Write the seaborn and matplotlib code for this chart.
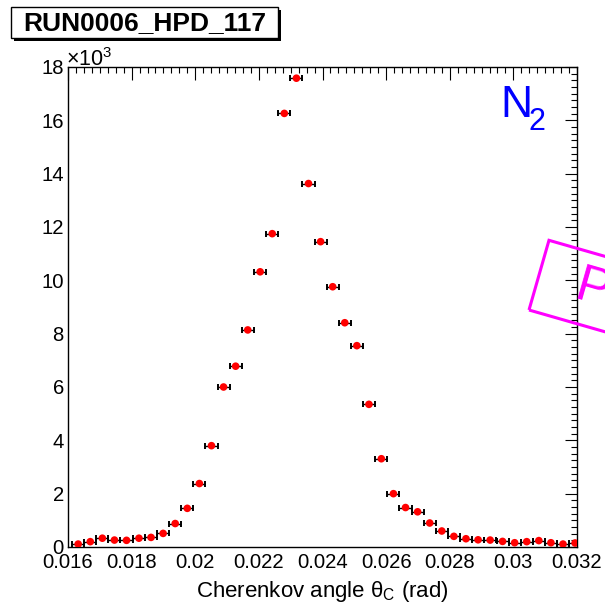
import matplotlib
matplotlib.use("Agg")
import numpy as np
import pandas as pd
import seaborn as sns
import matplotlib.pyplot as plt
from matplotlib.patches import Rectangle
from matplotlib.ticker import MultipleLocator, FuncFormatter
from matplotlib.transforms import IdentityTransform

# ---------------- data ----------------
theta_c = [0.01632, 0.01670, 0.01708, 0.01746, 0.01784, 0.01823, 0.01861,
           0.01899, 0.01937, 0.01975, 0.02013, 0.02051, 0.02089, 0.02127,
           0.02165, 0.02204, 0.02242, 0.02280, 0.02318, 0.02356, 0.02394,
           0.02432, 0.02470, 0.02508, 0.02546, 0.02585, 0.02623, 0.02661,
           0.02699, 0.02737, 0.02775, 0.02813, 0.02851, 0.02889, 0.02927,
           0.02966, 0.03004, 0.03042, 0.03080, 0.03118, 0.03156, 0.03194]
counts = [110, 200, 330, 260, 250, 330, 360, 510, 880, 1450, 2380, 3800,
          6000, 6780, 8140, 10320, 11750, 16260, 17580, 13630, 11450, 9760,
          8410, 7550, 5350, 3310, 2000, 1480, 1320, 900, 600, 400, 310, 270,
          260, 210, 160, 200, 240, 160, 110, 150]
half_bin = 0.00019

title_text = "RUN0006_HPD_117"
x_label = "Cherenkov angle θ$_{C}$ (rad)"
gas_main = "N"
gas_sub = "2"
stamp_text = "Preliminary"

df = pd.DataFrame({"theta": theta_c, "counts": counts})

# ---------------- style ----------------
sns.set_theme(style="white")
plt.rcParams['font.family'] = ['Liberation Sans', 'DejaVu Sans']
plt.rcParams['mathtext.fontset'] = 'custom'
plt.rcParams['mathtext.rm'] = 'Liberation Sans'
plt.rcParams['mathtext.it'] = 'Liberation Sans'
plt.rcParams['mathtext.bf'] = 'Liberation Sans:bold'

W, H = 605, 604
fig = plt.figure(figsize=(W / 100, H / 100), dpi=100)
fig.patch.set_facecolor("white")
ax = fig.add_axes([68 / W, 1 - 547 / H, (577 - 68) / W, (547 - 67) / H])

ax.errorbar(df["theta"], df["counts"], xerr=half_bin, fmt="none",
            ecolor="black", elinewidth=1.0, capsize=2.2, capthick=1.4, zorder=2)
sns.scatterplot(data=df, x="theta", y="counts", ax=ax, color="red",
                s=30, edgecolor="none", linewidth=0, zorder=3, legend=False)

ax.set_xlim(0.016, 0.032)
ax.set_ylim(0, 18000)
ax.xaxis.set_major_locator(MultipleLocator(0.002))
ax.xaxis.set_minor_locator(MultipleLocator(0.00025))
ax.yaxis.set_major_locator(MultipleLocator(2000))
ax.yaxis.set_minor_locator(MultipleLocator(250))
ax.xaxis.set_major_formatter(FuncFormatter(lambda v, p: "%g" % round(v, 4)))
ax.yaxis.set_major_formatter(FuncFormatter(lambda v, p: "%g" % (v / 1000)))

ax.tick_params(which="both", direction="in", top=True, right=True,
               width=0.8, color="black", labelsize=14.6, labelcolor="black")
ax.tick_params(axis="y", which="major", length=8.6, pad=3)
ax.tick_params(axis="y", which="minor", length=4.3)
ax.tick_params(axis="x", which="major", length=9.3, pad=4)
ax.tick_params(axis="x", which="minor", length=4.3)
for s in ax.spines.values():
    s.set_visible(True)
    s.set_color("black")
    s.set_linewidth(1.0)
ax.grid(False)

ax.set_xlabel(x_label, fontsize=16, color="black", labelpad=5)
ax.set_ylabel("")

# x10^3 multiplier
fig.text(66 / W, 1 - 66 / H, r"$\times$10$^{3}$", fontsize=15.5, ha="left",
         va="baseline", color="black")

# title box with shadow
bx0, bx1, by0, by1 = 11, 278, 7, 38
sh = 3
fig.add_artist(Rectangle((bx0 + sh, H - by1 - sh), bx1 - bx0, by1 - by0,
                         transform=IdentityTransform(), facecolor="black",
                         edgecolor="black", linewidth=0, zorder=5))
fig.add_artist(Rectangle((bx0, H - by1), bx1 - bx0, by1 - by0,
                         transform=IdentityTransform(), facecolor="white",
                         edgecolor="black", linewidth=1.0, zorder=6))
fig.text((bx0 + bx1) / 2 / W, 1 - 23.5 / H, title_text, fontsize=19,
         fontweight="bold", ha="center", va="center", color="black", zorder=7)

# gas label
fig.text(500 / W, 1 - 117 / H, gas_main, fontsize=32, color="blue",
         ha="left", va="baseline")
fig.text(529 / W, 1 - 130 / H, gas_sub, fontsize=22, color="blue",
         ha="left", va="baseline")

# magenta stamp (mostly outside the canvas)
fig.add_artist(Rectangle((529, H - 310), 300, 72.5, angle=-16,
                         transform=IdentityTransform(), facecolor="none",
                         edgecolor="magenta", linewidth=2.2, zorder=8))
fig.text(573, H - 298, stamp_text, transform=IdentityTransform(),
         fontsize=37, color="magenta", rotation=-16, rotation_mode="anchor",
         ha="left", va="baseline", zorder=8)

fig.savefig("out.png", dpi=100, facecolor="white")
